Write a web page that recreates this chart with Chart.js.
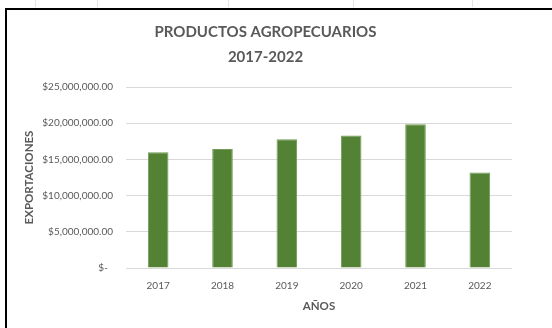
<!DOCTYPE html>
<html>
<head>
<meta charset="utf-8">
<script src="https://cdn.jsdelivr.net/npm/chart.js@4/dist/chart.umd.min.js"></script>
<style>
    html, body { margin: 0; padding: 0; background: #fff; }
    body { width: 552px; height: 328px; position: relative; overflow: hidden; }
    .frame { position: absolute; left: 5px; top: 8px; width: 600px; height: 400px; border: 2px solid #000; box-sizing: border-box; }
    .cell { position: absolute; top: 0; width: 1px; height: 7px; background: #e4e4e4; }
    #chart { position: absolute; left: 0; top: 0; }
</style>
</head>
<body>
<div class="cell" style="left:35px"></div>
<div class="cell" style="left:97px"></div>
<div class="cell" style="left:228px"></div>
<div class="cell" style="left:353px"></div>
<div class="cell" style="left:472px"></div>
<div class="frame"></div>
<canvas id="chart" width="552" height="328"></canvas>
<script>
// Chart data
const years = ['2017', '2018', '2019', '2020', '2021', '2022'];
const exports = [16000000, 16450000, 17800000, 18300000, 19850000, 13200000];
const yTicks = [0, 5000000, 10000000, 15000000, 20000000, 25000000];
const titleLines = ['PRODUCTOS AGROPECUARIOS', '2017-2022'];

const textGrey = '#595959';

// Excel accounting format
function formatMoney(value) {
    if (value === 0) {
        return '$-  ';
    }
    return '$' + value.toLocaleString('en-US', { minimumFractionDigits: 2, maximumFractionDigits: 2 });
}

document.addEventListener('DOMContentLoaded', function() {
    const ctx = document.getElementById('chart').getContext('2d');

    new Chart(ctx, {
        type: 'bar',
        data: {
            labels: years,
            datasets: [{
                label: 'Exportaciones',
                data: exports,
                backgroundColor: '#548235',
                borderColor: '#6f9c52',
                borderWidth: 1,
                categoryPercentage: 1,
                barPercentage: 0.32
            }]
        },
        options: {
            responsive: false,
            animation: false,
            layout: {
                // right padding kept small so the title centres like the original
                padding: { left: 0, right: 21, top: 0, bottom: 0 }
            },
            plugins: {
                legend: { display: false },
                tooltip: { enabled: false },
                title: {
                    display: true,
                    text: titleLines,
                    color: textGrey,
                    font: { family: 'Lato', size: 15, weight: 'bold', lineHeight: 25 / 15 },
                    padding: { top: 20, bottom: 17 }
                }
            },
            scales: {
                x: {
                    grid: { display: false },
                    border: { display: false },
                    ticks: {
                        color: textGrey,
                        font: { family: 'Lato', size: 10 },
                        padding: 4
                    },
                    title: {
                        display: true,
                        text: 'AÑOS',
                        color: textGrey,
                        font: { family: 'Lato', size: 11.5, weight: 'bold' },
                        padding: { top: 0, bottom: 15 }
                    },
                    afterFit: function(scale) {
                        scale.height = 60;
                    }
                },
                y: {
                    min: 0,
                    max: 25000000,
                    grid: { color: '#d9d9d9', lineWidth: 1, drawTicks: false },
                    border: { display: false },
                    afterBuildTicks: function(scale) {
                        scale.ticks = yTicks.map(v => ({ value: v }));
                    },
                    ticks: {
                        color: textGrey,
                        font: { family: 'Lato', size: 10 },
                        padding: 13,
                        callback: function(value) {
                            return formatMoney(value);
                        }
                    },
                    title: {
                        display: true,
                        text: 'EXPORTACIONES',
                        color: textGrey,
                        font: { family: 'Lato', size: 11.5, weight: 'bold' },
                        padding: { top: 22, bottom: 0 }
                    },
                    afterFit: function(scale) {
                        scale.width = 126;
                    }
                },
                // empty right-hand axis: only reserves the blank strip right of the plot
                yRight: {
                    position: 'right',
                    min: 0,
                    max: 25000000,
                    grid: { display: false },
                    border: { display: false },
                    ticks: { display: false },
                    afterFit: function(scale) {
                        scale.width = 19;
                    }
                }
            }
        }
    });
});
</script>
</body>
</html>
